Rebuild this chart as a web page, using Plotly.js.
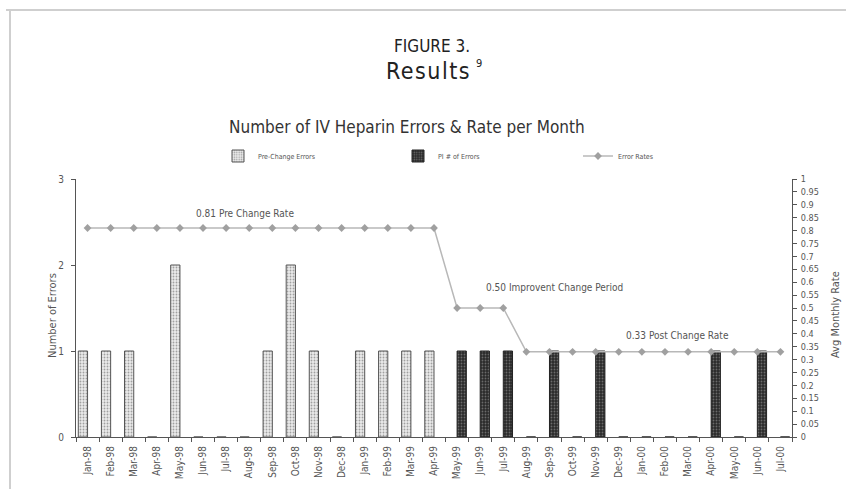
<!DOCTYPE html>
<html>
<head>
<meta charset="utf-8">
<script src="https://cdn.plot.ly/plotly-3.0.1.min.js"></script>
<style>
  html, body { margin: 0; padding: 0; background: #fff; }
  #chart { width: 846px; height: 489px; }
</style>
</head>
<body>
<div id="chart"></div>
<script>
// Monthly IV heparin error counts and average monthly error rate
const months = [
  'Jan-98','Feb-98','Mar-98','Apr-98','May-98','Jun-98','Jul-98','Aug-98','Sep-98','Oct-98','Nov-98','Dec-98',
  'Jan-99','Feb-99','Mar-99','Apr-99','May-99','Jun-99','Jul-99','Aug-99','Sep-99','Oct-99','Nov-99','Dec-99',
  'Jan-00','Feb-00','Mar-00','Apr-00','May-00','Jun-00','Jul-00'
];
const preChangeErrors = [
  1, 1, 1, 0, 2, 0, 0, 0, 1, 2, 1, 0,
  1, 1, 1, 1, null, null, null, null, null, null, null, null,
  null, null, null, null, null, null, null
];
const piErrors = [
  null, null, null, null, null, null, null, null, null, null, null, null,
  null, null, null, null, 1, 1, 1, 0, 1, 0, 1, 0,
  0, 0, 0, 1, 0, 1, 0
];
const errorRates = [
  0.81, 0.81, 0.81, 0.81, 0.81, 0.81, 0.81, 0.81, 0.81, 0.81, 0.81, 0.81,
  0.81, 0.81, 0.81, 0.81, 0.50, 0.50, 0.50, 0.33, 0.33, 0.33, 0.33, 0.33,
  0.33, 0.33, 0.33, 0.33, 0.33, 0.33, 0.33
];
const seriesNames = ['Pre-Change Errors', 'PI # of Errors', 'Error Rates'];
const rateNoteTexts = ['0.81 Pre Change Rate', '0.50 Improvent Change Period', '0.33 Post Change Rate'];

const narrow = '"Liberation Sans Narrow", "DejaVu Sans Condensed", "Arial Narrow", sans-serif';
const ink = '#555';

// plot area in pixels, used to place titles and the page frame
const plotL = 76, plotR = 792, plotT = 179, plotB = 437;
const px = x => (x - plotL) / (plotR - plotL);
const py = y => (plotB - y) / (plotB - plotT);

// where each rate note sits: category index (fractional) and rate level
const notePlaces = [[6.8, 0.868], [20.2, 0.578], [25.56, 0.395]];

const traces = [
  {
    type: 'bar', name: seriesNames[0], x: months, y: preChangeErrors,
    marker: {
      color: '#e6e6e6',
      line: {color: '#555', width: 1},
      pattern: {shape: '.', fgcolor: '#a0a0a0', bgcolor: '#ebebeb', size: 3, solidity: 0.3}
    }
  },
  {
    type: 'bar', name: seriesNames[1], x: months, y: piErrors,
    marker: {
      color: '#333',
      line: {color: '#222', width: 1},
      pattern: {shape: '.', fgcolor: '#6a6a6a', bgcolor: '#2a2a2a', size: 3, solidity: 0.3}
    }
  },
  {
    type: 'scatter', mode: 'lines+markers', name: seriesNames[2],
    x: months, y: errorRates, yaxis: 'y2',
    line: {color: '#b8b8b8', width: 1.5},
    marker: {symbol: 'diamond', size: 6, color: '#a0a0a0'}
  }
];

const layout = {
  width: 846, height: 489,
  margin: {l: plotL, r: 846 - plotR, t: plotT, b: 489 - plotB, pad: 0},
  paper_bgcolor: '#fff', plot_bgcolor: '#fff',
  font: {family: narrow, color: ink, size: 9},
  barmode: 'group', bargap: 0.2, bargroupgap: 0,
  showlegend: true,
  legend: {
    orientation: 'h', x: px(218), y: py(156), xanchor: 'left', yanchor: 'middle',
    font: {family: narrow, size: 7, color: '#555'},
    entrywidth: 135, itemwidth: 30, tracegroupgap: 0,
    bgcolor: 'rgba(0,0,0,0)'
  },
  xaxis: {
    type: 'category', range: [-0.5, months.length - 0.5],
    showline: true, linecolor: '#555', linewidth: 1,
    ticks: 'outside', tickson: 'boundaries', ticklen: 4, tickcolor: '#555',
    tickangle: -90, ticklabelstandoff: 4,
    tickfont: {family: narrow, size: 10, color: '#555'},
    showgrid: false, zeroline: false, fixedrange: true
  },
  yaxis: {
    range: [0, 3], dtick: 1,
    showline: true, linecolor: '#555', linewidth: 1,
    ticks: 'outside', ticklen: 4, tickcolor: '#555', ticklabelstandoff: 5,
    tickfont: {family: narrow, size: 10, color: '#555'},
    showgrid: false, zeroline: false, fixedrange: true
  },
  yaxis2: {
    range: [0, 1], dtick: 0.05, overlaying: 'y', side: 'right',
    showline: true, linecolor: '#555', linewidth: 1,
    ticks: 'outside', ticklen: 4, tickcolor: '#555', ticklabelstandoff: 2,
    tickfont: {family: narrow, size: 9, color: '#555'},
    showgrid: false, zeroline: false, fixedrange: true
  },
  annotations: [
    {
      xref: 'paper', yref: 'paper', x: px(432), y: py(46), xanchor: 'center', yanchor: 'middle',
      text: 'FIGURE 3.', showarrow: false,
      font: {family: narrow, size: 17, color: '#222'}
    },
    {
      xref: 'paper', yref: 'paper', x: px(428), y: py(71), xanchor: 'center', yanchor: 'middle',
      text: '<span style="letter-spacing:1.5px">Results</span>',
      showarrow: false,
      font: {family: narrow, size: 23, color: '#222'}
    },
    {
      // footnote marker raised beside the heading
      xref: 'paper', yref: 'paper', x: px(474), y: py(63), xanchor: 'left', yanchor: 'middle',
      text: '9', showarrow: false,
      font: {family: narrow, size: 11, color: '#222'}
    },
    {
      xref: 'paper', yref: 'paper', x: px(407), y: py(127), xanchor: 'center', yanchor: 'middle',
      text: 'Number of IV Heparin Errors &amp; Rate per Month', showarrow: false,
      font: {family: narrow, size: 17, color: '#333'}
    },
    {
      xref: 'paper', yref: 'paper', x: px(52), y: py(316), xanchor: 'center', yanchor: 'middle',
      text: 'Number of Errors', textangle: -90, showarrow: false,
      font: {family: narrow, size: 11, color: '#555'}
    },
    {
      xref: 'paper', yref: 'paper', x: px(835), y: py(315), xanchor: 'center', yanchor: 'middle',
      text: 'Avg Monthly Rate', textangle: -90, showarrow: false,
      font: {family: narrow, size: 11, color: '#555'}
    }
  ].concat(rateNoteTexts.map((t, i) => ({
    xref: 'x', yref: 'y2', x: notePlaces[i][0], y: notePlaces[i][1],
    xanchor: 'center', yanchor: 'middle',
    text: t, showarrow: false,
    font: {family: narrow, size: 10, color: '#555'}
  }))),
  shapes: [
    // page frame: rule across the top and down the left edge
    {type: 'line', xref: 'paper', yref: 'paper', x0: px(6), x1: px(846), y0: py(10), y1: py(10),
     line: {color: '#cfcfcf', width: 2}},
    {type: 'line', xref: 'paper', yref: 'paper', x0: px(10), x1: px(10), y0: py(10), y1: py(489),
     line: {color: '#cfcfcf', width: 2}}
  ]
};

Plotly.newPlot('chart', traces, layout, {displayModeBar: false, staticPlot: true});
</script>
</body>
</html>
